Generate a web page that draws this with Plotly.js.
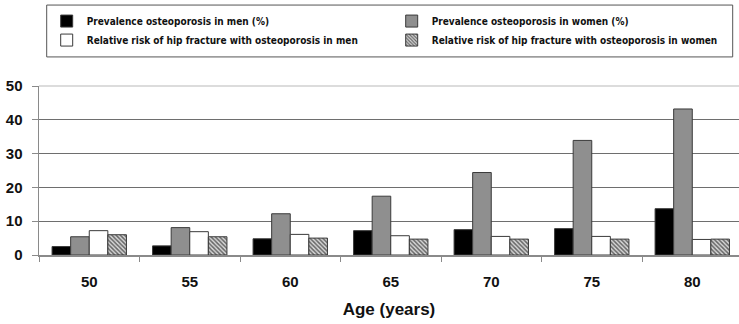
<!DOCTYPE html>
<html>
<head>
<meta charset="utf-8">
<script src="https://cdn.plot.ly/plotly-3.0.1.min.js"></script>
<style>html,body{margin:0;padding:0;background:#fff;}#chart{width:739px;height:324px;}</style>
</head>
<body>
<div id="chart"></div>
<script>
const ages = ['50', '55', '60', '65', '70', '75', '80'];
const prevMen = [2.5, 2.7, 4.8, 7.2, 7.5, 7.8, 13.7];
const prevWomen = [5.4, 8.1, 12.2, 17.4, 24.4, 33.9, 43.2];
const rrMen = [7.2, 6.9, 6.1, 5.7, 5.5, 5.5, 4.6];
const rrWomen = [6.0, 5.4, 5.0, 4.7, 4.7, 4.7, 4.7];
const names = [
  'Prevalence osteoporosis in men (%)',
  'Prevalence osteoporosis in women (%)',
  'Relative risk of hip fracture with osteoporosis in men',
  'Relative risk of hip fracture with osteoporosis in women'
];

const outline = {color: '#3a3a3a', width: 1};
const traces = [
  {type: 'bar', x: ages, y: prevMen, name: names[0], marker: {color: '#000000', line: outline}},
  {type: 'bar', x: ages, y: prevWomen, name: names[1], marker: {color: '#8f8f8f', line: outline}},
  {type: 'bar', x: ages, y: rrMen, name: names[2], marker: {color: '#ffffff', line: outline}},
  {type: 'bar', x: ages, y: rrWomen, name: names[3], marker: {color: '#ffffff', line: outline,
    pattern: {shape: '\\', fgcolor: '#666666', bgcolor: '#d8d8d8', size: 3, solidity: 0.5}}}
];

const layout = {
  width: 739, height: 324,
  margin: {l: 39, r: 0, t: 86, b: 69, pad: 0},
  paper_bgcolor: '#ffffff', plot_bgcolor: '#ffffff',
  barmode: 'group', bargap: 0.26, bargroupgap: 0,
  showlegend: true,
  legend: {
    orientation: 'h', x: 0.011, y: 1.47, xanchor: 'left', yanchor: 'top',
    borderwidth: 0, bgcolor: 'rgba(0,0,0,0)',
    entrywidth: 300, entrywidthmode: 'pixels',
    font: {family: 'DejaVu Sans Condensed', size: 10, color: '#111111', weight: 'bold'},
    traceorder: 'normal', itemwidth: 30
  },
  xaxis: {
    type: 'category', range: [-0.5, 6.465],
    showline: true, linecolor: '#8a8a8a', linewidth: 1.5,
    ticks: 'outside', tickson: 'boundaries', ticklen: 5, tickcolor: '#8a8a8a', tickwidth: 1,
    showgrid: false, zeroline: false,
    ticklabelstandoff: 12,
    tickfont: {family: 'Liberation Sans', size: 15, color: '#111111', weight: 'bold'},
    title: {text: 'Age (years)', font: {family: 'Liberation Sans', size: 17, color: '#111111', weight: 'bold'}, standoff: 14}
  },
  yaxis: {
    range: [0, 50], tickvals: [0, 10, 20, 30, 40, 50],
    showline: true, linecolor: '#8a8a8a', linewidth: 1.5,
    ticks: 'outside', ticklen: 6, tickcolor: '#8a8a8a', tickwidth: 1,
    showgrid: true, gridcolor: '#6e6e6e', gridwidth: 1,
    zeroline: false,
    ticklabelstandoff: 6,
    tickfont: {family: 'Liberation Sans', size: 15, color: '#111111', weight: 'bold'}
  },
  shapes: [
    {type: 'line', xref: 'paper', yref: 'paper', x0: 0, x1: 1, y0: 1, y1: 1,
     line: {color: '#d0d0d0', width: 1.5}, layer: 'above'},
    {type: 'rect', xref: 'paper', yref: 'paper', x0: 0.011, x1: 0.991, y0: 1.172, y1: 1.479,
     line: {color: '#555555', width: 1}, fillcolor: 'rgba(0,0,0,0)', layer: 'above'}
  ]
};

Plotly.newPlot('chart', traces, layout, {displayModeBar: false, staticPlot: true});
</script>
</body>
</html>
